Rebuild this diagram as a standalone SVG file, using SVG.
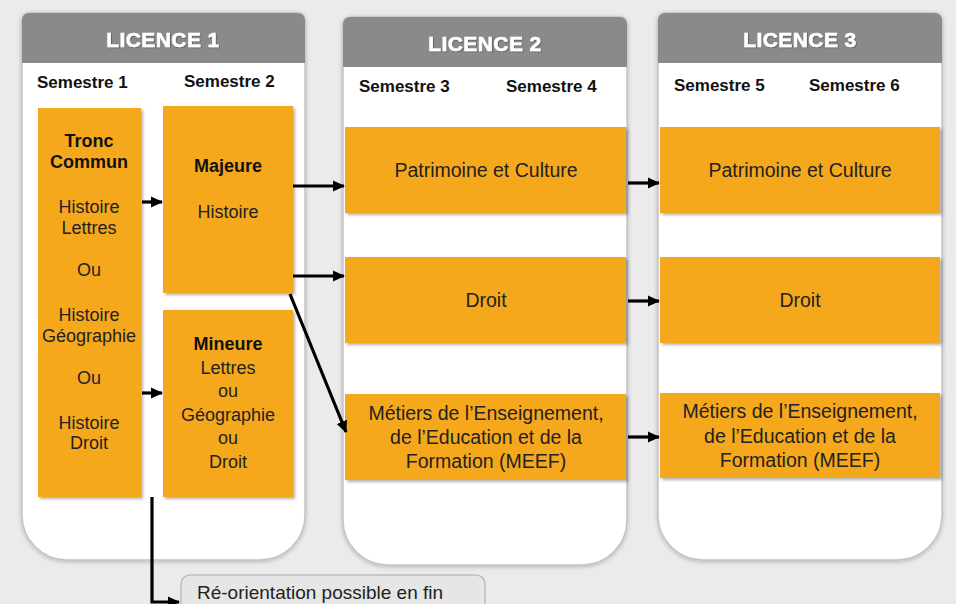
<svg xmlns="http://www.w3.org/2000/svg" width="956" height="604" viewBox="0 0 956 604">
<defs>
<filter id="sh" x="-10%" y="-10%" width="130%" height="130%"><feDropShadow dx="2" dy="2" stdDeviation="1.5" flood-color="#000" flood-opacity="0.3"/></filter>
<filter id="psh" x="-10%" y="-10%" width="130%" height="130%"><feDropShadow dx="0" dy="1" stdDeviation="2" flood-color="#000" flood-opacity="0.25"/></filter>
<filter id="tsh"><feDropShadow dx="0.8" dy="0.8" stdDeviation="0.4" flood-color="#444" flood-opacity="0.7"/></filter>
<marker id="ah" viewBox="0 0 12 12" refX="11" refY="6" markerWidth="12" markerHeight="12" markerUnits="userSpaceOnUse" orient="auto"><path d="M0 0.5 L12 6 L0 11.5 Z" fill="#000"/></marker>
</defs>
<style>
.panel{fill:#fff;stroke:#c4c4c4;stroke-width:1.5;filter:url(#psh)}
.head{fill:#8a8a8a}
.ht{font-family:"Liberation Sans",Arial,sans-serif;font-weight:bold;font-size:21px;letter-spacing:0.4px;fill:#fff;stroke:#fff;stroke-width:0.6;text-anchor:middle;filter:url(#tsh)}
.sem{font-family:"Liberation Sans",Arial,sans-serif;font-weight:bold;font-size:17px;fill:#111}
.box{fill:#F6A81E;filter:url(#sh)}
.t{font-family:"Liberation Sans",Arial,sans-serif;font-size:18px;fill:#222;text-anchor:middle}
.t2{font-family:"Liberation Sans",Arial,sans-serif;font-size:19.5px;fill:#222;text-anchor:middle}
.b{font-weight:bold;fill:#111}
.con{stroke:#000;stroke-width:3.2;fill:none;marker-end:url(#ah)}
</style>
<rect width="956" height="604" fill="#ebebeb"/>

<g id="licence1">
<path class="panel" d="M30 13 H297 Q305 13 305 21 V515 A45 45 0 0 1 260 560 H67 A45 45 0 0 1 22 515 V21 Q22 13 30 13 Z"/>
<path class="head" d="M30 13 H297 Q305 13 305 21 V63 H22 V21 Q22 13 30 13 Z"/>
<text class="ht" x="163" y="47">LICENCE 1</text>
<text class="sem" x="37" y="88">Semestre 1</text>
<text class="sem" x="184" y="87">Semestre 2</text>
</g>

<g id="licence2">
<path class="panel" d="M351 17 H619 Q627 17 627 25 V520 A45 45 0 0 1 582 565 H388 A45 45 0 0 1 343 520 V25 Q343 17 351 17 Z"/>
<path class="head" d="M351 17 H619 Q627 17 627 25 V67 H343 V25 Q343 17 351 17 Z"/>
<text class="ht" x="485" y="51">LICENCE 2</text>
<text class="sem" x="359" y="92">Semestre 3</text>
<text class="sem" x="506" y="92">Semestre 4</text>
</g>

<g id="licence3">
<path class="panel" d="M666 13 H934 Q942 13 942 21 V515 A45 45 0 0 1 897 560 H703 A45 45 0 0 1 658 515 V21 Q658 13 666 13 Z"/>
<path class="head" d="M666 13 H934 Q942 13 942 21 V63 H658 V21 Q658 13 666 13 Z"/>
<text class="ht" x="800" y="47">LICENCE 3</text>
<text class="sem" x="674" y="91">Semestre 5</text>
<text class="sem" x="809" y="91">Semestre 6</text>
</g>

<g id="tronc-commun">
<rect class="box" x="38" y="108" width="103" height="389"/>
<text class="t b" x="89" y="147">Tronc</text>
<text class="t b" x="89" y="168">Commun</text>
<text class="t" x="89" y="213">Histoire</text>
<text class="t" x="89" y="234">Lettres</text>
<text class="t" x="89" y="276">Ou</text>
<text class="t" x="89" y="321">Histoire</text>
<text class="t" x="89" y="342">Géographie</text>
<text class="t" x="89" y="384">Ou</text>
<text class="t" x="89" y="429">Histoire</text>
<text class="t" x="89" y="449">Droit</text>
</g>

<g id="majeure">
<rect class="box" x="163" y="106" width="130" height="187"/>
<text class="t b" x="228" y="172">Majeure</text>
<text class="t" x="228" y="218">Histoire</text>
</g>

<g id="mineure">
<rect class="box" x="163" y="310" width="130" height="187"/>
<text class="t b" x="228" y="350">Mineure</text>
<text class="t" x="228" y="374">Lettres</text>
<text class="t" x="228" y="397">ou</text>
<text class="t" x="228" y="421">Géographie</text>
<text class="t" x="228" y="444">ou</text>
<text class="t" x="228" y="468">Droit</text>
</g>

<g id="l2-patrimoine">
<rect class="box" x="345" y="127" width="281" height="86"/>
<text class="t2" x="486" y="177">Patrimoine et Culture</text>
</g>
<g id="l2-droit">
<rect class="box" x="345" y="257" width="281" height="86"/>
<text class="t2" x="486" y="307">Droit</text>
</g>
<g id="l2-meef">
<rect class="box" x="345" y="394" width="281" height="86"/>
<text class="t2" x="486" y="420">Métiers de l’Enseignement,</text>
<text class="t2" x="486" y="444">de l’Education et de la</text>
<text class="t2" x="486" y="468">Formation (MEEF)</text>
</g>

<g id="l3-patrimoine">
<rect class="box" x="660" y="127" width="280" height="86"/>
<text class="t2" x="800" y="177">Patrimoine et Culture</text>
</g>
<g id="l3-droit">
<rect class="box" x="660" y="257" width="280" height="86"/>
<text class="t2" x="800" y="307">Droit</text>
</g>
<g id="l3-meef">
<rect class="box" x="660" y="393" width="280" height="85"/>
<text class="t2" x="800" y="418">Métiers de l’Enseignement,</text>
<text class="t2" x="800" y="443">de l’Education et de la</text>
<text class="t2" x="800" y="467">Formation (MEEF)</text>
</g>

<g id="reorientation">
<rect x="181" y="575" width="304" height="50" rx="9" fill="#e6e6e6" stroke="#bdbdbd" stroke-width="1.5"/>
<text x="197" y="599" font-family="Liberation Sans, Arial, sans-serif" font-size="19" fill="#222">Ré-orientation possible en fin</text>
</g>

<g id="connectors">
<path class="con" d="M142 202 H162"/>
<path class="con" d="M142 393 H162"/>
<path class="con" d="M293 186 H344"/>
<path class="con" d="M293 276 H344"/>
<path class="con" d="M290 294 L346 432"/>
<path class="con" d="M628 183 H659"/>
<path class="con" d="M628 301 H659"/>
<path class="con" d="M628 437 H659"/>
<path class="con" d="M152 497 V602 H179"/>
</g>
</svg>
